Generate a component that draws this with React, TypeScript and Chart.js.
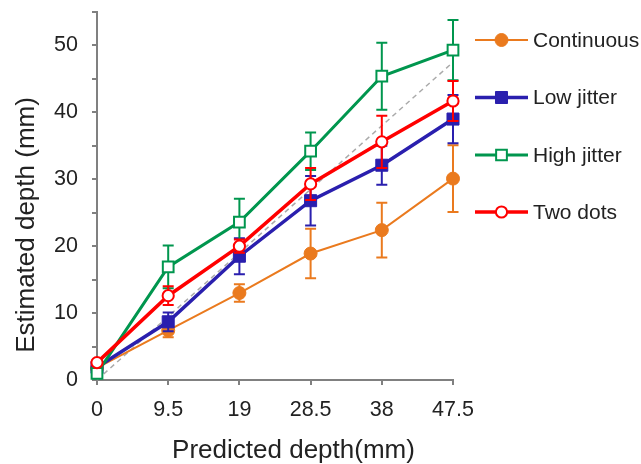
import React, { useEffect, useRef } from "react";
import { Chart, registerables } from "chart.js";

Chart.register(...registerables);

const xValues = [0, 9.5, 19, 28.5, 38, 47.5];
const xTickValues = [0, 9.5, 19, 28.5, 38, 47.5];

const continuous = [1.8, 7.4, 13.0, 18.9, 22.4, 30.1];
const continuousErr = [0.3, 1.0, 1.3, 3.7, 4.1, 5.0];
const lowJitter = [1.9, 8.7, 18.5, 26.8, 32.1, 39.0];
const lowJitterErr = [0.3, 1.4, 2.7, 3.7, 2.9, 3.6];
const highJitter = [1.0, 16.9, 23.6, 34.2, 45.4, 49.3];
const highJitterErr = [0.3, 3.2, 3.5, 2.8, 5.0, 4.5];
const twoDots = [2.6, 12.6, 20.0, 29.3, 35.6, 41.7];
const twoDotsErr = [0.3, 1.4, 1.0, 2.4, 3.9, 3.0];
const identityLine = [0, 47.5];

const seriesNames = ["Continuous", "Low jitter", "High jitter", "Two dots"];
const xTitle = "Predicted depth(mm)";
const yTitle = "Estimated depth (mm)";

const ORANGE = "#EA7A1E";
const BLUE = "#2A1FAE";
const GREEN = "#00964E";
const RED = "#FF0000";
const AXIS = "#808080";
const FONT = "'Liberation Sans', Arial, Helvetica, sans-serif";

type Style = {
  color: string;
  shape: "circle" | "rect";
  filled: boolean;
  radius: number;
  lineWidth: number;
};

const styles: Style[] = [
  { color: ORANGE, shape: "circle", filled: true, radius: 6.5, lineWidth: 2 },
  { color: BLUE, shape: "rect", filled: true, radius: 8.5, lineWidth: 3.5 },
  { color: GREEN, shape: "rect", filled: false, radius: 7.6, lineWidth: 3 },
  { color: RED, shape: "circle", filled: false, radius: 5.6, lineWidth: 3.5 },
];

function drawMarker(ctx: CanvasRenderingContext2D, s: Style, x: number, y: number) {
  ctx.save();
  ctx.beginPath();
  if (s.shape === "circle") {
    ctx.arc(x, y, s.radius, 0, Math.PI * 2);
  } else {
    const h = s.radius * Math.SQRT1_2;
    ctx.rect(x - h, y - h, 2 * h, 2 * h);
  }
  ctx.fillStyle = s.filled ? s.color : "#ffffff";
  ctx.fill();
  ctx.lineWidth = s.filled ? 1 : 2;
  ctx.strokeStyle = s.color;
  ctx.stroke();
  ctx.restore();
}

const errorBarPlugin = {
  id: "errorBars",
  beforeDatasetDraw(chart: any, args: any) {
    const ds = chart.data.datasets[args.index];
    if (!ds.errors) return;
    const ctx = chart.ctx;
    const xs = chart.scales.x;
    const ys = chart.scales.y;
    ctx.save();
    ctx.strokeStyle = ds.borderColor;
    ctx.lineWidth = 2;
    ds.data.forEach((p: any, i: number) => {
      const e = ds.errors[i];
      const px = xs.getPixelForValue(p.x);
      const top = ys.getPixelForValue(p.y + e);
      const bot = ys.getPixelForValue(p.y - e);
      ctx.beginPath();
      ctx.moveTo(px, top);
      ctx.lineTo(px, bot);
      ctx.moveTo(px - 5.5, top);
      ctx.lineTo(px + 5.5, top);
      ctx.moveTo(px - 5.5, bot);
      ctx.lineTo(px + 5.5, bot);
      ctx.stroke();
    });
    ctx.restore();
  },
};

const annotationPlugin = {
  id: "titlesAndLegend",
  afterDraw(chart: any) {
    const ctx = chart.ctx as CanvasRenderingContext2D;
    ctx.save();
    ctx.fillStyle = "#222222";
    ctx.font = `26px ${FONT}`;
    ctx.textAlign = "center";
    ctx.textBaseline = "alphabetic";
    ctx.fillText(xTitle, 293.5, 458);
    ctx.save();
    ctx.translate(33.5, 225);
    ctx.rotate(-Math.PI / 2);
    ctx.fillText(yTitle, 0, 0);
    ctx.restore();

    const rowY = [40, 97.5, 155, 212];
    ctx.font = `21px ${FONT}`;
    ctx.textAlign = "left";
    ctx.textBaseline = "middle";
    seriesNames.forEach((name, i) => {
      const s = styles[i];
      const y = rowY[i];
      ctx.save();
      ctx.strokeStyle = s.color;
      ctx.lineWidth = s.lineWidth;
      ctx.beginPath();
      ctx.moveTo(475, y);
      ctx.lineTo(528, y);
      ctx.stroke();
      ctx.restore();
      drawMarker(ctx, s, 501.5, y);
      ctx.fillStyle = "#222222";
      ctx.fillText(name, 533, y + 1);
    });
    ctx.restore();
  },
};

function series(label: string, values: number[], errs: number[], s: Style, order: number) {
  return {
    label,
    data: xValues.map((x, i) => ({ x, y: values[i] })),
    errors: errs,
    borderColor: s.color,
    backgroundColor: s.filled ? s.color : "#ffffff",
    borderWidth: s.lineWidth,
    pointStyle: s.shape,
    pointRadius: s.radius,
    pointBorderWidth: s.filled ? 1 : 2,
    pointBackgroundColor: s.filled ? s.color : "#ffffff",
    pointBorderColor: s.color,
    pointHoverRadius: s.radius,
    tension: 0,
    clip: false,
    order,
  };
}

export default function App() {
  const ref = useRef<HTMLCanvasElement | null>(null);

  useEffect(() => {
    if (!ref.current) return;
    const chart = new Chart(ref.current, {
      type: "line",
      data: {
        datasets: [
          {
            label: "identity",
            data: identityLine.map((v) => ({ x: v, y: v })),
            borderColor: "#AAAAAA",
            borderWidth: 1.5,
            borderDash: [5, 4],
            pointRadius: 0,
            clip: false,
            order: 10,
          } as any,
          series(seriesNames[0], continuous, continuousErr, styles[0], 8),
          series(seriesNames[1], lowJitter, lowJitterErr, styles[1], 6),
          series(seriesNames[2], highJitter, highJitterErr, styles[2], 4),
          series(seriesNames[3], twoDots, twoDotsErr, styles[3], 2),
        ],
      },
      options: {
        responsive: false,
        animation: false,
        layout: { padding: { left: 0, right: 188, top: 12, bottom: 0 } },
        plugins: {
          legend: { display: false },
          tooltip: { enabled: false },
        },
        scales: {
          x: {
            type: "linear",
            min: 0,
            max: 47.5,
            afterBuildTicks: (scale: any) => {
              scale.ticks = xTickValues.map((v) => ({ value: v }));
            },
            afterFit: (scale: any) => {
              scale.height = 84;
              scale.paddingLeft = 0;
              scale.paddingRight = 0;
            },
            ticks: {
              font: { family: FONT, size: 21.5 },
              color: "#222222",
              padding: 12,
              maxRotation: 0,
              autoSkip: false,
              callback: (v: any) => String(v),
            },
            grid: {
              drawOnChartArea: false,
              drawTicks: true,
              tickLength: 5,
              color: AXIS,
              lineWidth: 2,
            },
            border: { display: true, color: AXIS, width: 2 },
          },
          y: {
            type: "linear",
            min: 0,
            max: 55,
            afterFit: (scale: any) => {
              scale.width = 97;
              scale.paddingTop = 0;
              scale.paddingBottom = 0;
            },
            ticks: {
              stepSize: 5,
              font: { family: FONT, size: 21.5 },
              color: "#222222",
              padding: 14,
              callback: (v: any) => (Number(v) % 10 === 0 ? String(v) : ""),
            },
            grid: {
              drawOnChartArea: false,
              drawTicks: true,
              tickLength: 5,
              color: AXIS,
              lineWidth: 2,
            },
            border: { display: true, color: AXIS, width: 2 },
          },
        },
      },
      plugins: [errorBarPlugin, annotationPlugin],
    } as any);
    return () => chart.destroy();
  }, []);

  return (
    <div style={{ position: "absolute", left: 0, top: 0, width: 641, height: 464, background: "#ffffff" }}>
      <canvas ref={ref} width={641} height={464} style={{ display: "block" }} />
    </div>
  );
}
